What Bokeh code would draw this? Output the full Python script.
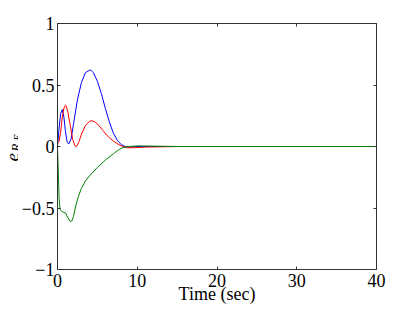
import math
from bokeh.plotting import figure
from bokeh.models import LinearAxis, FixedTicker, Label, Range1d
from bokeh.layouts import row
from bokeh.embed import file_html
from bokeh.resources import INLINE

# ---- data ----
t_blue = [0, 0.2, 0.4, 0.6, 0.8, 1.0, 1.2, 1.4, 1.7, 2.0, 2.5, 3.0, 3.5, 4.0, 4.2,
          4.5, 5.0, 5.5, 6.0, 6.5, 7.0, 7.5, 8.0, 8.5, 9, 10, 12, 15, 20, 40]
e_blue = [0, 0.15, 0.27, 0.30, 0.24, 0.12, 0.04, 0.02, 0.06, 0.18, 0.38, 0.52, 0.60,
          0.62, 0.62, 0.60, 0.53, 0.43, 0.31, 0.20, 0.11, 0.05, 0.015, 0.0, -0.005,
          0, 0, 0, 0, 0]

t_red = [0, 0.2, 0.4, 0.6, 0.8, 1.0, 1.1, 1.3, 1.6, 1.9, 2.2, 2.4, 2.7, 3.0, 3.5, 4.0,
         4.3, 4.7, 5.2, 5.7, 6.2, 6.7, 7.2, 7.7, 8.2, 8.7, 9.5, 11, 15, 40]
e_red = [0.03, 0.04, 0.12, 0.24, 0.31, 0.335, 0.33, 0.28, 0.17, 0.06, 0.005, 0.0, 0.04,
         0.10, 0.17, 0.205, 0.21, 0.20, 0.17, 0.13, 0.09, 0.06, 0.035, 0.015, 0.0,
         -0.01, -0.01, -0.005, 0, 0]

t_green = [0, 0.1, 0.2, 0.3, 0.4, 0.6, 0.8, 1.0, 1.3, 1.6, 1.8, 2.0, 2.3, 2.6, 3.0, 3.5,
           4.0, 5.0, 6.0, 7.0, 7.5, 8.0, 8.5, 9, 10, 12, 15, 40]
e_green = [0, -0.2, -0.42, -0.5, -0.52, -0.53, -0.535, -0.54, -0.58, -0.61, -0.605,
           -0.57, -0.48, -0.41, -0.34, -0.28, -0.24, -0.17, -0.11, -0.06, -0.035,
           -0.015, -0.005, 0, 0.005, 0.003, 0, 0]

x_ticks = [0, 10, 20, 30, 40]
y_ticks = [-1, -0.5, 0, 0.5, 1]
y_tick_labels = ["\u22121", "\u22120.5", "0", "0.5", "1"]
x_label = "Time (sec)"
y_label_parts = ["e", "R", "E"]

FONT = "Liberation Serif"
AX = "#333333"
LW = 18  # width of the strip holding the y-axis title
TOP, BOTTOM = 23, 43

p = figure(width=415 - LW, height=312, output_backend="svg", toolbar_location=None,
           x_range=Range1d(0, 40), y_range=Range1d(-1, 1),
           min_border_left=57 - LW, min_border_right=39, min_border_top=TOP,
           min_border_bottom=BOTTOM, background_fill_color="white",
           border_fill_color="white")
p.grid.visible = False
p.outline_line_color = AX

p.line(t_blue, e_blue, line_color="#0000ff", line_width=1)
p.line(t_red, e_red, line_color="#ff0000", line_width=1)
p.line(t_green, e_green, line_color="#008000", line_width=1)

def style(ax):
    ax.axis_line_color = AX
    ax.major_tick_line_color = AX
    ax.major_tick_in = 3
    ax.major_tick_out = 0
    ax.minor_tick_line_color = None
    ax.major_label_text_font = FONT
    ax.major_label_text_color = "black"
    ax.major_label_text_font_size = "18px"
    ax.major_label_standoff = 3

xa = p.xaxis[0]
xa.ticker = FixedTicker(ticks=x_ticks)
style(xa)
xa.major_label_standoff = 4
xa.axis_label = x_label
xa.axis_label_text_font = FONT
xa.axis_label_text_font_style = "normal"
xa.axis_label_text_font_size = "18px"
xa.axis_label_text_color = "black"
xa.axis_label_standoff = -6
ya = p.yaxis[0]
ya.ticker = FixedTicker(ticks=y_ticks)
ya.major_label_overrides = {v: s for v, s in zip(y_ticks, y_tick_labels)}
style(ya)

# mirrored tick marks on top and right (no labels)
top = LinearAxis(ticker=FixedTicker(ticks=x_ticks))
style(top)
top.major_label_overrides = {v: "" for v in x_ticks}
top.major_label_standoff = 0
p.add_layout(top, "above")
right = LinearAxis(ticker=FixedTicker(ticks=y_ticks))
style(right)
right.major_label_overrides = {v: "" for v in y_ticks}
right.major_label_standoff = 0
p.add_layout(right, "right")

# narrow strip on the left holding the y-axis title e_{R_E}
q = figure(width=LW, height=312, output_backend="svg", toolbar_location=None,
           x_axis_type=None, y_axis_type=None, min_border_left=0,
           min_border_right=0, min_border_top=TOP, min_border_bottom=BOTTOM,
           x_range=Range1d(0, 1), y_range=Range1d(0, 1),
           background_fill_color="white", border_fill_color="white")
q.grid.visible = False
q.outline_line_color = None
ang = math.pi / 2
specs = [  # (x, y, size) in screen px of the strip frame (origin bottom-left)
    (12, 108, "19px"),
    (14.5, 118, "13px"),
    (17, 129, "10px"),
]
for part, (sx, sy, fs) in zip(y_label_parts, specs):
    q.add_layout(Label(x=sx, y=sy, x_units="screen", y_units="screen", angle=ang,
                       text=part, text_font=FONT, text_font_style="italic",
                       text_font_size=fs, text_baseline="alphabetic",
                       text_align="left", text_color="black"))

layout = row(q, p, spacing=0)
open("out.html", "w").write(file_html(layout, INLINE))
